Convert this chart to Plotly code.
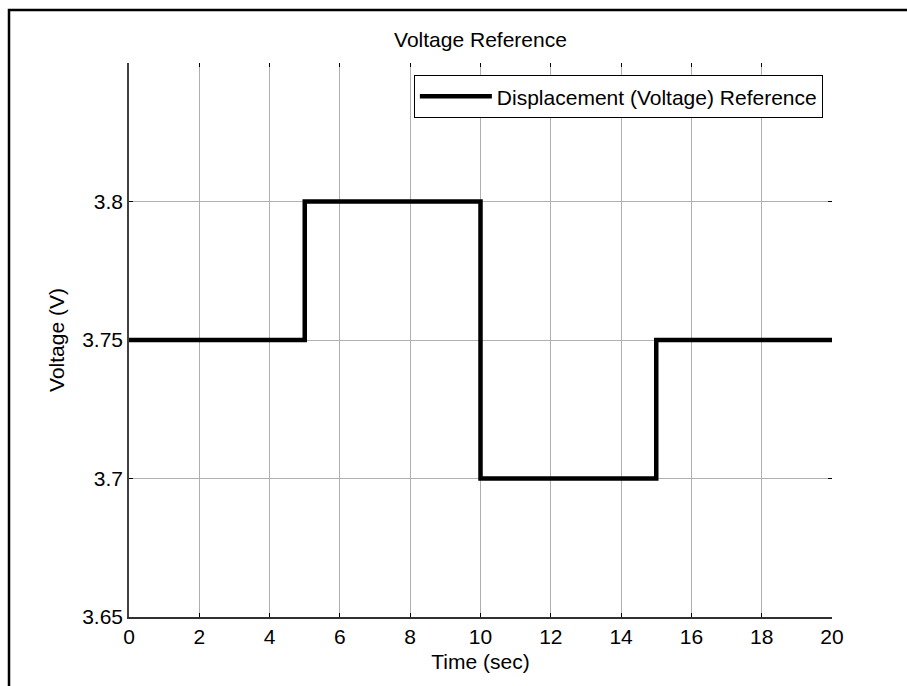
import plotly.graph_objects as go

# Data
time_s = [0, 5, 10, 15, 20]
voltage = [3.75, 3.8, 3.7, 3.75, 3.75]
x_ticks = [0, 2, 4, 6, 8, 10, 12, 14, 16, 18, 20]
y_ticks = [3.65, 3.7, 3.75, 3.8, 3.85]
y_tick_labels = ["3.65", "3.7", "3.75", "3.8", ""]

FONT = "Liberation Sans, Arial, sans-serif"
FS = 21

fig = go.Figure()
fig.add_trace(go.Scatter(
    x=time_s, y=voltage, mode="lines", line=dict(color="black", width=4.5, shape="hv"),
    name="Displacement (Voltage) Reference"))
# invisible trace to activate mirrored tick axes
fig.add_trace(go.Scatter(
    x=time_s, y=voltage, mode="lines", line=dict(color="rgba(0,0,0,0)", width=0),
    xaxis="x2", yaxis="y2", showlegend=False, hoverinfo="skip"))

fig.update_layout(
    width=907, height=686,
    margin=dict(l=129, r=75, t=63, b=69),
    paper_bgcolor="white", plot_bgcolor="white",
    font=dict(family=FONT, size=FS, color="black"),
    title=dict(text="Voltage Reference", x=0.5, xref="paper", xanchor="center",
               y=1 - 40 / 686, yanchor="middle", font=dict(size=FS)),
    xaxis=dict(range=[0, 20], tickvals=x_ticks, ticktext=[str(v) for v in x_ticks],
               showgrid=True, gridcolor="#b0b0b0", gridwidth=1,
               showline=True, linecolor="#303030", linewidth=1.5,
               ticks="inside", ticklen=4, tickcolor="black", zeroline=False,
               title=dict(text="Time (sec)", standoff=7, font=dict(size=FS))),
    yaxis=dict(range=[3.65, 3.85], tickvals=y_ticks, ticktext=y_tick_labels,
               showgrid=True, gridcolor="#b0b0b0", gridwidth=1,
               showline=True, linecolor="#404040", linewidth=1.5,
               ticks="inside", ticklen=4, tickcolor="black", zeroline=False,
               title=dict(text="Voltage (V)", standoff=12, font=dict(size=FS))),
    xaxis2=dict(range=[0, 20], tickvals=x_ticks, overlaying="x", side="top",
                showticklabels=False, showgrid=False, showline=False,
                ticks="inside", ticklen=4, tickcolor="black", zeroline=False),
    yaxis2=dict(range=[3.65, 3.85], tickvals=y_ticks, overlaying="y", side="right",
                showticklabels=False, showgrid=False, showline=False,
                ticks="inside", ticklen=4, tickcolor="black", zeroline=False),
    legend=dict(x=0.987, xanchor="right", y=0.978, yanchor="top",
                bgcolor="white", bordercolor="black", borderwidth=1,
                font=dict(size=FS), itemwidth=72),
    shapes=[dict(type="rect", xref="paper", yref="paper",
                 x0=(9 - 129) / 703, x1=(930 - 129) / 703,
                 y0=(617 - 720) / 554, y1=(617 - 10) / 554,
                 line=dict(color="black", width=2.5), fillcolor="rgba(0,0,0,0)",
                 layer="below")],
)

fig.write_html("out.html")
